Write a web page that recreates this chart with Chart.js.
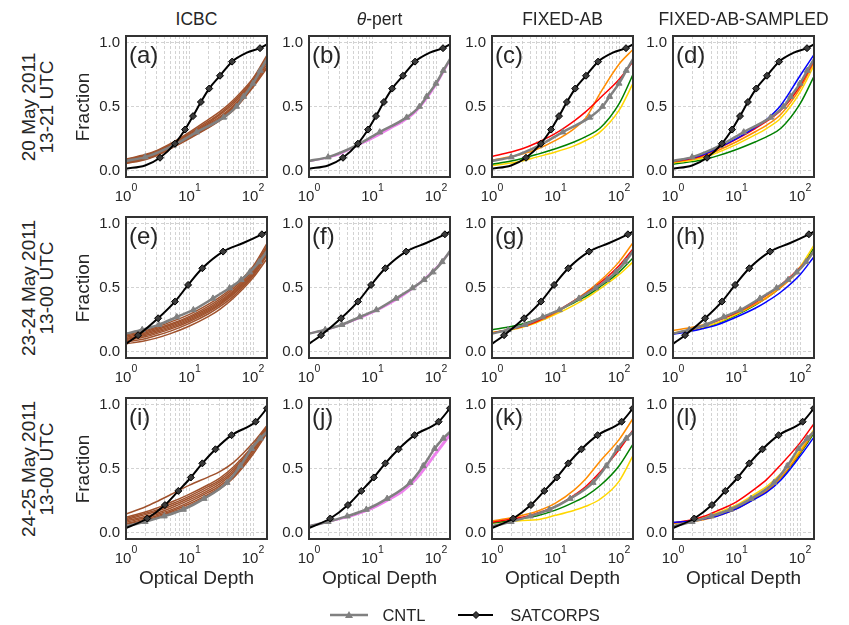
<!DOCTYPE html>
<html>
<head>
<meta charset="utf-8">
<script src="https://cdn.jsdelivr.net/npm/chart.js@4.4.1/dist/chart.umd.min.js"></script>
<style>
  body { margin: 0; background: #fff; font-family: "Liberation Sans", Arial, sans-serif; color: #262626; }
  #fig { position: relative; width: 849px; height: 625px; overflow: hidden; }
  canvas.p { position: absolute; }
  .t { position: absolute; white-space: nowrap; font-size: 17.5px; transform: translate(-50%, -50%); }
  .ax { font-size: 19px; }
  .r { position: absolute; white-space: nowrap; font-size: 19px; line-height: 18px; text-align: center;
       transform: translate(-50%, -50%) rotate(-90deg); }
</style>
</head>
<body>
<div id="fig"></div>
<script>
// common x grid for ensemble members (optical depth)
const xs = [1, 2, 3, 5, 10, 20, 30, 50, 100, 166];
const xGrid = [1, 2, 3, 4, 5, 6, 7, 8, 9, 10, 20, 30, 40, 50, 60, 70, 80, 90, 100];
const xDecades = [0, 1, 2];
const yTicks = [0, 0.5, 1];

const colTitles = ['ICBC', '<i>θ</i>-pert', 'FIXED-AB', 'FIXED-AB-SAMPLED'];
const rowTitles = [
    ['20 May 2011', '13-21 UTC'],
    ['23-24 May 2011', '13-00 UTC'],
    ['24-25 May 2011', '13-00 UTC']
];
const letters = ['a', 'b', 'c', 'd', 'e', 'f', 'g', 'h', 'i', 'j', 'k', 'l'];

// SATCORPS (observations), one per row
const sat1X = [1, 2, 3.43, 5.89, 8.51, 11.35, 15.1, 20.4, 30.2, 46.8, 80, 128.8, 166];
const sat1Y = [0.015, 0.04, 0.10, 0.21, 0.32, 0.425, 0.535, 0.64, 0.74, 0.85, 0.92, 0.955, 0.985];
const sat1M = [0, 0, 1, 1, 1, 1, 1, 1, 1, 1, 0, 1, 0];
const sat2X = [1, 1.55, 3.2, 5.9, 9.5, 15.9, 33.8, 70, 138, 166];
const sat2Y = [0.06, 0.128, 0.26, 0.39, 0.52, 0.65, 0.78, 0.847, 0.915, 0.935];
const sat2M = [0, 1, 1, 1, 1, 1, 1, 0, 1, 0];
const sat3X = [1, 2.16, 4.1, 6.67, 10.5, 15.9, 25.6, 46, 110, 166];
const sat3Y = [0.036, 0.11, 0.215, 0.325, 0.43, 0.54, 0.65, 0.76, 0.865, 0.97];
const sat3M = [0, 1, 1, 1, 1, 1, 1, 1, 1, 1];

// CNTL, one per row
const cntl1X = [1, 2, 5.6, 13, 34.5, 55, 71, 100, 130, 166];
const cntl1Y = [0.075, 0.105, 0.197, 0.30, 0.415, 0.50, 0.577, 0.68, 0.78, 0.87];
const cntl2X = [1, 1.8, 3.3, 6.3, 11.5, 23.4, 42.7, 65, 89, 125, 166];
const cntl2Y = [0.14, 0.17, 0.21, 0.27, 0.325, 0.415, 0.496, 0.56, 0.62, 0.70, 0.785];
const cntl3X = [1, 2, 4, 8, 17, 39, 63, 95, 130, 166];
const cntl3Y = [0.05, 0.085, 0.128, 0.18, 0.265, 0.39, 0.52, 0.655, 0.735, 0.785];

// ensemble members on xs
const icbc1 = [
    [0.09, 0.125, 0.155, 0.21, 0.30, 0.40, 0.46, 0.555, 0.72, 0.90],
    [0.085, 0.12, 0.15, 0.205, 0.29, 0.385, 0.445, 0.54, 0.71, 0.88],
    [0.08, 0.115, 0.145, 0.20, 0.285, 0.375, 0.435, 0.525, 0.70, 0.87],
    [0.075, 0.11, 0.14, 0.195, 0.275, 0.365, 0.42, 0.51, 0.69, 0.86],
    [0.07, 0.10, 0.13, 0.185, 0.265, 0.355, 0.41, 0.50, 0.68, 0.85],
    [0.065, 0.095, 0.125, 0.18, 0.26, 0.345, 0.40, 0.49, 0.67, 0.83],
    [0.06, 0.09, 0.12, 0.175, 0.255, 0.34, 0.395, 0.485, 0.66, 0.81],
    [0.055, 0.085, 0.115, 0.17, 0.25, 0.335, 0.39, 0.475, 0.65, 0.80]
];
const theta1 = [
    [0.072, 0.10, 0.125, 0.178, 0.25, 0.332, 0.38, 0.465, 0.665, 0.86],
    [0.074, 0.103, 0.128, 0.182, 0.255, 0.338, 0.387, 0.472, 0.672, 0.865]
];
const fixab1 = [
    [0.11, 0.145, 0.17, 0.215, 0.29, 0.39, 0.46, 0.565, 0.71, 0.85],
    [0.08, 0.11, 0.13, 0.165, 0.235, 0.33, 0.41, 0.60, 0.83, 0.945],
    [0.05, 0.075, 0.095, 0.125, 0.17, 0.225, 0.265, 0.33, 0.52, 0.75],
    [0.04, 0.06, 0.075, 0.105, 0.145, 0.195, 0.235, 0.30, 0.47, 0.68]
];
const sampled1 = [
    [0.075, 0.10, 0.125, 0.175, 0.25, 0.34, 0.40, 0.51, 0.74, 0.905],
    [0.07, 0.095, 0.12, 0.17, 0.245, 0.33, 0.385, 0.47, 0.66, 0.86],
    [0.065, 0.09, 0.11, 0.155, 0.225, 0.305, 0.355, 0.44, 0.64, 0.845],
    [0.06, 0.08, 0.10, 0.14, 0.205, 0.28, 0.33, 0.41, 0.61, 0.82],
    [0.05, 0.07, 0.085, 0.115, 0.165, 0.225, 0.265, 0.33, 0.52, 0.735]
];

const icbc2 = [
    [0.13, 0.165, 0.19, 0.23, 0.29, 0.37, 0.425, 0.51, 0.665, 0.845],
    [0.12, 0.155, 0.18, 0.215, 0.275, 0.355, 0.41, 0.495, 0.65, 0.825],
    [0.11, 0.145, 0.17, 0.205, 0.265, 0.34, 0.395, 0.48, 0.635, 0.81],
    [0.10, 0.135, 0.16, 0.195, 0.255, 0.33, 0.385, 0.47, 0.62, 0.795],
    [0.095, 0.125, 0.15, 0.185, 0.245, 0.32, 0.375, 0.46, 0.61, 0.78],
    [0.085, 0.115, 0.14, 0.175, 0.235, 0.31, 0.365, 0.45, 0.60, 0.765],
    [0.075, 0.10, 0.125, 0.16, 0.22, 0.295, 0.35, 0.435, 0.59, 0.75],
    [0.06, 0.085, 0.105, 0.14, 0.20, 0.275, 0.33, 0.42, 0.575, 0.725]
];
const theta2 = [
    [0.14, 0.172, 0.20, 0.24, 0.302, 0.38, 0.435, 0.515, 0.65, 0.775],
    [0.142, 0.174, 0.203, 0.243, 0.306, 0.385, 0.44, 0.52, 0.655, 0.78]
];
const fixab2 = [
    [0.145, 0.175, 0.195, 0.235, 0.31, 0.40, 0.455, 0.535, 0.67, 0.80],
    [0.145, 0.175, 0.195, 0.23, 0.30, 0.40, 0.46, 0.55, 0.70, 0.85],
    [0.17, 0.195, 0.215, 0.25, 0.31, 0.385, 0.43, 0.505, 0.62, 0.73],
    [0.15, 0.17, 0.19, 0.225, 0.29, 0.365, 0.415, 0.49, 0.60, 0.70]
];
const sampled2 = [
    [0.135, 0.16, 0.18, 0.21, 0.27, 0.34, 0.39, 0.465, 0.60, 0.74],
    [0.14, 0.172, 0.20, 0.24, 0.305, 0.385, 0.44, 0.52, 0.655, 0.78],
    [0.165, 0.19, 0.21, 0.245, 0.30, 0.37, 0.42, 0.50, 0.64, 0.79],
    [0.145, 0.17, 0.19, 0.225, 0.29, 0.37, 0.425, 0.51, 0.66, 0.83],
    [0.14, 0.165, 0.185, 0.22, 0.285, 0.365, 0.42, 0.505, 0.65, 0.81]
];

const icbc3 = [
    [0.145, 0.20, 0.24, 0.295, 0.37, 0.435, 0.475, 0.55, 0.70, 0.835],
    [0.12, 0.16, 0.19, 0.235, 0.30, 0.375, 0.425, 0.515, 0.68, 0.83],
    [0.11, 0.15, 0.175, 0.22, 0.285, 0.36, 0.41, 0.50, 0.67, 0.82],
    [0.10, 0.14, 0.165, 0.205, 0.27, 0.345, 0.395, 0.485, 0.66, 0.81],
    [0.09, 0.125, 0.15, 0.19, 0.255, 0.33, 0.38, 0.47, 0.65, 0.80],
    [0.08, 0.115, 0.14, 0.175, 0.24, 0.315, 0.365, 0.455, 0.64, 0.79],
    [0.07, 0.105, 0.13, 0.165, 0.225, 0.30, 0.35, 0.44, 0.625, 0.785],
    [0.065, 0.095, 0.12, 0.155, 0.21, 0.29, 0.34, 0.43, 0.61, 0.775]
];
const theta3 = [
    [0.05, 0.085, 0.105, 0.135, 0.19, 0.27, 0.325, 0.425, 0.62, 0.765],
    [0.052, 0.087, 0.108, 0.14, 0.195, 0.275, 0.33, 0.43, 0.63, 0.775],
    [0.048, 0.083, 0.103, 0.132, 0.186, 0.265, 0.318, 0.418, 0.61, 0.755]
];
const fixab3 = [
    [0.08, 0.105, 0.12, 0.15, 0.205, 0.295, 0.36, 0.47, 0.645, 0.80],
    [0.09, 0.115, 0.135, 0.165, 0.23, 0.335, 0.42, 0.555, 0.725, 0.89],
    [0.075, 0.095, 0.11, 0.13, 0.175, 0.24, 0.285, 0.365, 0.52, 0.69],
    [0.075, 0.085, 0.095, 0.10, 0.135, 0.175, 0.205, 0.26, 0.40, 0.60]
];
const sampled3 = [
    [0.08, 0.09, 0.105, 0.13, 0.185, 0.265, 0.315, 0.41, 0.595, 0.745],
    [0.075, 0.10, 0.125, 0.17, 0.24, 0.345, 0.415, 0.53, 0.70, 0.85],
    [0.075, 0.085, 0.10, 0.13, 0.185, 0.27, 0.325, 0.43, 0.625, 0.79],
    [0.075, 0.095, 0.115, 0.155, 0.215, 0.305, 0.36, 0.46, 0.64, 0.805],
    [0.075, 0.09, 0.105, 0.135, 0.19, 0.27, 0.325, 0.425, 0.615, 0.775]
];

const brown = '#a0522d';
const violet = '#ee82ee';
const abColors = ['#ff0000', '#ff8c00', '#008000', '#ffd700'];
const sampledColors = ['#0000ff', '#ff0000', '#ff8c00', '#ffd700', '#008000'];

const sats = [[sat1X, sat1Y, sat1M], [sat2X, sat2Y, sat2M], [sat3X, sat3Y, sat3M]];
const cntls = [[cntl1X, cntl1Y], [cntl2X, cntl2Y], [cntl3X, cntl3Y]];
const members = [
    [icbc1, theta1, fixab1, sampled1],
    [icbc2, theta2, fixab2, sampled2],
    [icbc3, theta3, fixab3, sampled3]
];

// layout (pixels)
const colLeft = [126, 309, 492, 673];
const rowTop = [36, 217, 398];
const BOX = 141;
const PAD = { left: 44, top: 6, right: 8, bottom: 32 };
const FONT = '"Liberation Sans", Arial, sans-serif';

function memberColor(col, k) {
    if (col === 0) return brown;
    if (col === 1) return violet;
    if (col === 2) return abColors[k];
    return sampledColors[k];
}

function pts(xv, yv) {
    return xv.map((x, i) => ({ x: x, y: yv[i] }));
}

const panelPlugin = {
    id: 'panel',
    afterDraw(chart, args, opts) {
        const { ctx, chartArea: a, scales: { x, y } } = chart;
        ctx.save();
        ctx.strokeStyle = '#333';
        ctx.lineWidth = 2;
        ctx.strokeRect(a.left, a.top, a.right - a.left, a.bottom - a.top);

        ctx.fillStyle = '#262626';
        ctx.font = '15px ' + FONT;
        ctx.textAlign = 'right';
        ctx.textBaseline = 'middle';
        yTicks.forEach(v => ctx.fillText(v.toFixed(1), a.left - 6, y.getPixelForValue(v)));

        ctx.textAlign = 'left';
        ctx.textBaseline = 'alphabetic';
        xDecades.forEach(e => {
            const px = x.getPixelForValue(Math.pow(10, e));
            ctx.font = '15px ' + FONT;
            const w1 = ctx.measureText('10').width;
            ctx.font = '10.5px ' + FONT;
            const w2 = ctx.measureText(String(e)).width;
            const x0 = px - (w1 + w2) / 2;
            ctx.font = '15px ' + FONT;
            ctx.fillText('10', x0, a.bottom + 24);
            ctx.font = '10.5px ' + FONT;
            ctx.fillText(String(e), x0 + w1, a.bottom + 14);
        });

        ctx.font = '24px ' + FONT;
        ctx.fillText('(' + opts.letter + ')', a.left + 3, a.top + 27);
        ctx.restore();
    }
};

const fig = document.getElementById('fig');

function makePanel(row, col) {
    const cv = document.createElement('canvas');
    cv.className = 'p';
    cv.width = BOX + PAD.left + PAD.right;
    cv.height = BOX + PAD.top + PAD.bottom;
    cv.style.left = (colLeft[col] - PAD.left) + 'px';
    cv.style.top = (rowTop[row] - PAD.top) + 'px';
    fig.appendChild(cv);

    const [sx, sy, sm] = sats[row];
    const [cx, cy] = cntls[row];

    const datasets = [];
    datasets.push({
        label: 'SATCORPS',
        data: pts(sx, sy),
        borderColor: '#000',
        borderWidth: 2,
        pointStyle: 'rectRot',
        pointRadius: c => sm[c.dataIndex] ? 3.5 : 0,
        pointBackgroundColor: '#3a3a3a',
        pointBorderColor: '#000',
        pointBorderWidth: 1
    });
    datasets.push({
        label: 'CNTL',
        data: pts(cx, cy),
        borderColor: '#808080',
        borderWidth: 2.5,
        pointStyle: 'triangle',
        pointRadius: c => (c.dataIndex > 0 && c.dataIndex < cx.length - 1) ? 3.5 : 0,
        pointBackgroundColor: '#808080',
        pointBorderColor: '#808080',
        pointBorderWidth: 1
    });
    members[row][col].forEach((m, k) => {
        datasets.push({
            data: pts(xs, m),
            borderColor: memberColor(col, k),
            borderWidth: 1.5,
            pointRadius: 0
        });
    });

    new Chart(cv, {
        type: 'line',
        data: { datasets: datasets },
        options: {
            responsive: false,
            animation: false,
            devicePixelRatio: 1,
            events: [],
            layout: { padding: PAD },
            elements: { line: { cubicInterpolationMode: 'monotone', fill: false } },
            plugins: {
                legend: { display: false },
                tooltip: { enabled: false },
                panel: { letter: letters[row * 4 + col] }
            },
            scales: {
                x: {
                    type: 'logarithmic',
                    min: 1,
                    max: 166,
                    afterBuildTicks: s => { s.ticks = xGrid.map(v => ({ value: v })); },
                    afterFit: s => { s.height = 0; },
                    ticks: { display: false },
                    grid: { color: '#c8c8c8', lineWidth: 0.8, drawTicks: false },
                    border: { display: false, dash: [3, 2] }
                },
                y: {
                    type: 'linear',
                    min: -0.05,
                    max: 1.05,
                    afterBuildTicks: s => { s.ticks = yTicks.map(v => ({ value: v })); },
                    afterFit: s => { s.width = 0; },
                    ticks: { display: false },
                    grid: { color: '#c8c8c8', lineWidth: 0.8, drawTicks: false },
                    border: { display: false, dash: [3, 2] }
                }
            }
        },
        plugins: [panelPlugin]
    });
}

function addText(cls, html, x, y) {
    const d = document.createElement('div');
    d.className = cls;
    d.innerHTML = html;
    d.style.left = x + 'px';
    d.style.top = y + 'px';
    fig.appendChild(d);
    return d;
}

for (let r = 0; r < 3; r++) {
    for (let c = 0; c < 4; c++) {
        makePanel(r, c);
    }
}

colTitles.forEach((t, c) => addText('t', t, colLeft[c] + BOX / 2, 19));
rowTitles.forEach((t, r) => {
    const cy = rowTop[r] + BOX / 2;
    addText('r', t[0] + '<br>' + t[1], 38, cy);
    addText('r', 'Fraction', 83, cy);
});
colLeft.forEach(l => addText('t ax', 'Optical Depth', l + BOX / 2, 578));

// legend
const lg = document.createElement('canvas');
lg.width = 849; lg.height = 24;
lg.style.position = 'absolute'; lg.style.left = '0px'; lg.style.top = '603px';
fig.appendChild(lg);
const g = lg.getContext('2d');
const ly = 12;
g.lineWidth = 2.5; g.strokeStyle = '#808080';
g.beginPath(); g.moveTo(330, ly); g.lineTo(368, ly); g.stroke();
g.fillStyle = '#808080';
g.beginPath(); g.moveTo(349, ly - 4); g.lineTo(353, ly + 3); g.lineTo(345, ly + 3); g.closePath(); g.fill();
g.lineWidth = 2; g.strokeStyle = '#000';
g.beginPath(); g.moveTo(458, ly); g.lineTo(493, ly); g.stroke();
g.fillStyle = '#3a3a3a'; g.lineWidth = 1;
g.beginPath(); g.moveTo(476, ly - 3.5); g.lineTo(479.5, ly); g.lineTo(476, ly + 3.5); g.lineTo(472.5, ly); g.closePath(); g.fill(); g.stroke();

const l1 = addText('t', 'CNTL', 404, 615);
l1.style.fontSize = '16.5px';
const l2 = addText('t', 'SATCORPS', 555, 615);
l2.style.fontSize = '16.5px';
</script>
</body>
</html>
